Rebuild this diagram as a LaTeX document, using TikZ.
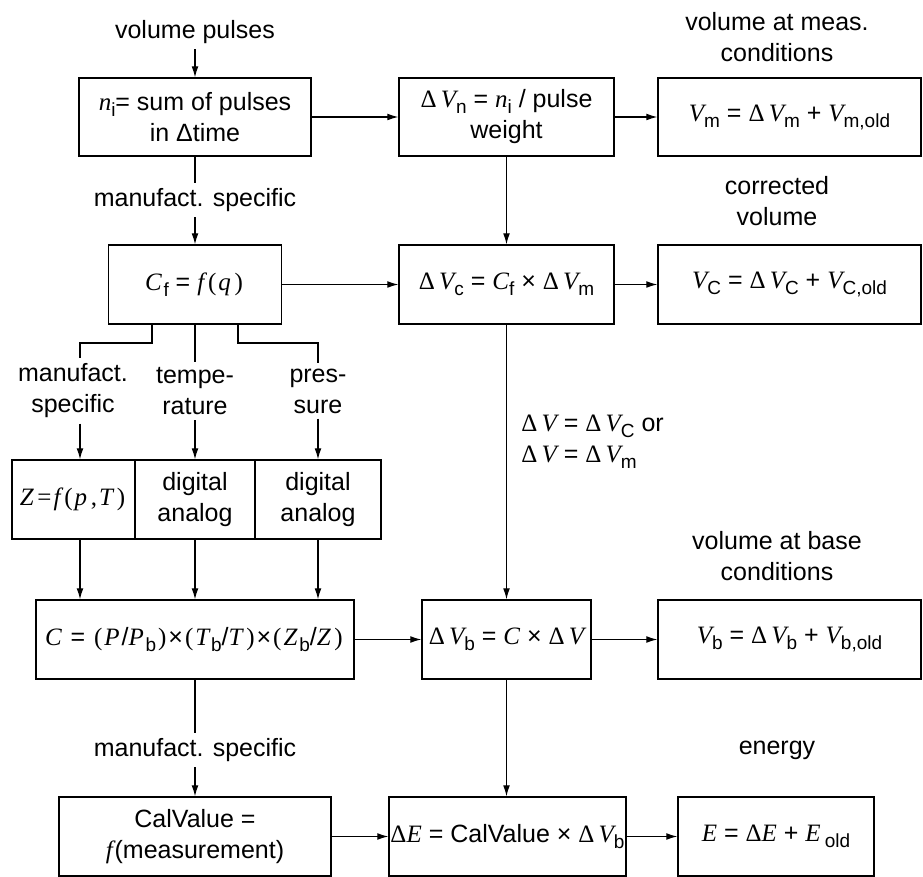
\documentclass[tikz,border=0pt]{standalone}
\usepackage{fontspec}
\setmainfont{Liberation Sans}
\newfontfamily\serifv{Liberation Serif}
\usetikzlibrary{arrows.meta}
\newcommand{\vr}[1]{{\serifv\itshape #1}}
\newcommand{\vk}[1]{{\serifv\itshape #1}\kern0.9pt\relax}
\newcommand{\sbs}[1]{\raisebox{-0.45ex}{\fontsize{9.5}{10}\selectfont #1}}
\newcommand{\Dl}{{\serifv Δ}}
\newcommand{\pl}[1]{\kern1pt{\serifv #1}\kern1pt\relax}
\begin{document}
\begin{tikzpicture}[x=0.5pt,y=-0.5pt,
  font=\fontsize{12.5}{15.5}\selectfont,
  box/.style={draw, line width=0.65pt, inner sep=0pt, align=center},
  arr/.style={-{Latex[length=5.5pt,width=3.4pt]}, line width=0.6pt},
  ln/.style={line width=0.6pt},
  lbl/.style={align=center, inner sep=2.5pt}]
\useasboundingbox (0,0) rectangle (923,877);

% labels
\node[lbl] (vp) at (195,32) {volume pulses};
\node[lbl] (lm) at (777,37) {volume at meas.\\conditions};
\node[lbl] (lc) at (777,201) {corrected\\volume};
\node[lbl] (lb) at (777,556) {volume at base\\conditions};
\node[lbl] (le) at (777,750) {energy};
\node[lbl] (ms1) at (195,200) {manufact. specific};
\node[lbl] (ms2) at (195,750) {manufact. specific};
\node[lbl] (l1) at (73,391) {manufact.\\specific};
\node[lbl] (l2) at (195,391) {tempe-\\rature};
\node[lbl] (l3) at (318,391) {pres-\\sure};
\node[lbl, anchor=west, align=left] (ldv) at (516,442)
  {\Dl\,\vr{V} = \Dl\,\vr{V}\sbs{C} or\\\Dl\,\vr{V} = \Dl\,\vr{V}\sbs{m}};

% row 1
\node[box, minimum width=116pt, minimum height=39pt] (n1) at (195,117)
  {\vr{n}\sbs{i}= sum of pulses\\in Δtime};
\node[box, minimum width=107.5pt, minimum height=39pt] (dVn) at (506.5,117)
  {\Dl\,\vr{V}\sbs{n} = \vr{n}\sbs{i} / pulse\\weight};
\node[box, minimum width=131.5pt, minimum height=39pt] (Vm) at (789.5,117)
  {\vr{V}\sbs{m} = \Dl\,\vr{V}\sbs{m} + \vr{V}\sbs{m,old}};

% row 2
\node[box, minimum width=86.5pt, minimum height=39.5pt] (Cf) at (195,284.5)
  {\vk{C}\sbs{f} = \vk{f}\pl{(}\vk{q}\pl{)}};
\node[box, minimum width=107.5pt, minimum height=39.5pt] (dVc) at (506.5,284.5)
  {\Dl\,\vr{V}\sbs{c} = \vr{C}\sbs{f} × \Dl\,\vr{V}\sbs{m}};
\node[box, minimum width=131.5pt, minimum height=39.5pt] (Vc) at (789.5,284.5)
  {\vr{V}\sbs{C} = \Dl\,\vr{V}\sbs{C} + \vr{V}\sbs{C,old}};

% Z row
\node[box, minimum width=61.5pt, minimum height=39.5pt] (z1) at (73.5,499.5)
  {\vk{Z}\pl{=}\vk{f}\pl{(}\vk{p}\pl{,}\vk{T}\pl{)}};
\node[box, minimum width=60pt, minimum height=39.5pt] (z2) at (195,499.5)
  {digital\\analog};
\node[box, minimum width=63pt, minimum height=39.5pt] (z3) at (318,499.5)
  {digital\\analog};

% row C
\node[box, minimum width=159pt, minimum height=39.5pt] (C) at (195,639.5)
  {\vk{C} = \pl{(}\vk{P}/\vk{P}\sbs{b}\pl{)}×\pl{(}\vk{T}\sbs{b}/\vk{T}\pl{)}×\pl{(}\vk{Z}\sbs{b}/\vk{Z}\pl{)}};
\node[box, minimum width=84.5pt, minimum height=39.5pt] (dVb) at (506.5,639.5)
  {\Dl\,\vr{V}\sbs{b} = \vr{C} × \Dl\,\vr{V}};
\node[box, minimum width=131.5pt, minimum height=39.5pt] (Vb) at (789.5,639.5)
  {\vr{V}\sbs{b} = \Dl\,\vr{V}\sbs{b} + \vr{V}\sbs{b,old}};

% bottom row
\node[box, minimum width=136pt, minimum height=39.5pt] (Cal) at (195,836.5)
  {CalValue =\\\vk{f}(measurement)};
\node[box, minimum width=118.5pt, minimum height=39.5pt] (dE) at (507.5,836.5)
  {\Dl\vr{E} = CalValue × \Dl\,\vr{V}\sbs{b}};
\node[box, minimum width=98pt, minimum height=39.5pt] (E) at (776,836.5)
  {\vr{E} = \Dl\vr{E} + \vr{E}\,\sbs{old}};

% helper coordinates
\coordinate (a1) at (80,0);
\coordinate (k1) at (152,343);
\coordinate (k2) at (238,343);

% connectors
\draw[arr] (vp) -- (n1);
\draw[arr] (n1) -- (dVn);
\draw[arr] (dVn) -- (Vm);
\draw[ln] (n1) -- (ms1);
\draw[arr] (ms1) -- (Cf);
\draw[arr] (dVn) -- (dVc);
\draw[arr] (Cf) -- (dVc);
\draw[arr] (dVc) -- (Vc);
\draw[arr] (dVc) -- (dVb);

\draw[ln] (Cf.south -| k1) |- (k1 -| a1) -- (l1.north -| a1);
\draw[arr] (l1.south -| a1) -- (z1.north -| a1);
\draw[ln] (Cf) -- (l2);
\draw[arr] (l2) -- (z2);
\draw[ln] (Cf.south -| k2) |- (k2 -| l3) -- (l3.north);
\draw[arr] (l3) -- (z3);

\draw[arr] (z1.south -| a1) -- (C.north -| a1);
\draw[arr] (z2) -- (C);
\draw[arr] (z3.south) -- (C.north -| z3);

\draw[arr] (C) -- (dVb);
\draw[arr] (dVb) -- (Vb);
\draw[arr] (dVb.south) -- (dVb.south |- dE.north);
\draw[ln] (C) -- (ms2);
\draw[arr] (ms2) -- (Cal);
\draw[arr] (Cal) -- (dE);
\draw[arr] (dE) -- (E);
\end{tikzpicture}
\end{document}
